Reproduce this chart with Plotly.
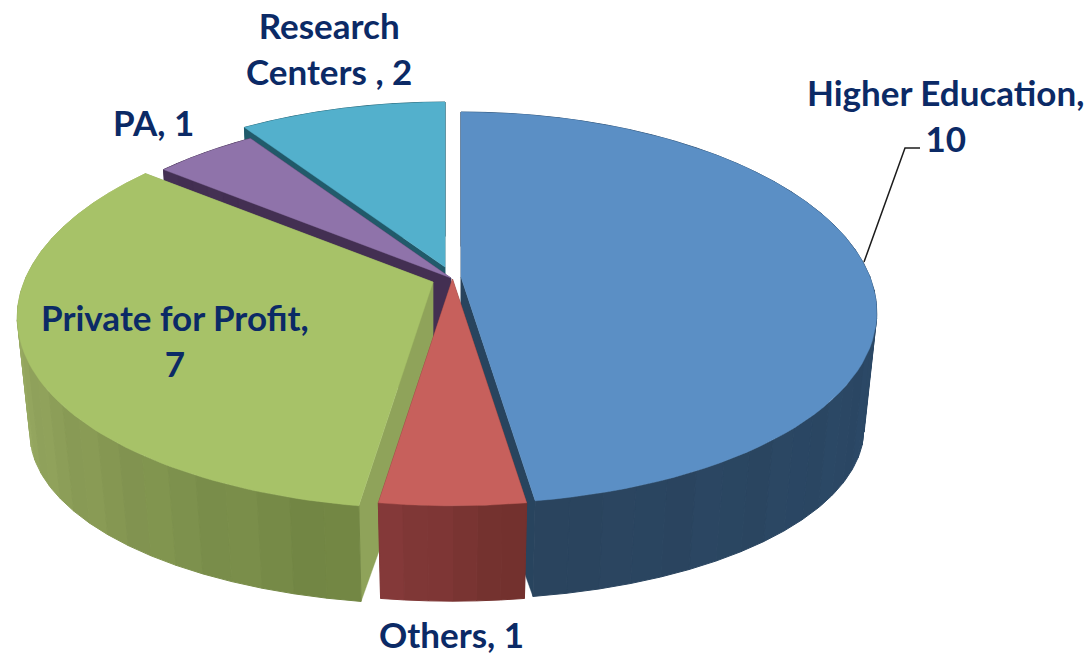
import numpy as np
import plotly.graph_objects as go

# --- data -------------------------------------------------------------
categories = ["Higher Education", "Others", "Private for Profit", "PA", "Research Centers "]
values = [10, 1, 7, 1, 2]

# --- style ------------------------------------------------------------
top_colors = ["#5b8fc5", "#c7605c", "#a7c268", "#8f73aa", "#53b0cc"]
cut_colors = ["#28445e", "#6f3331", "#8fa35a", "#432f52", "#215a6a"]
wall_ramps = [((44, 78, 114), (42, 68, 94)),      # from start angle to end angle
              ((112, 48, 44), (134, 58, 58)),
              ((112, 132, 66), (182, 198, 122)),
              ((67, 47, 82), (67, 47, 82)),
              ((33, 90, 106), (33, 90, 106))]
apex = [(461, 277), (452.5, 279), (433, 282), (451, 278), (445, 267)]
draw_order = ["Research Centers ", "PA", "Private for Profit", "Higher Education", "Others"]
R, RB, KX, KY = 409.0, 191.0, 0.18, 0.158   # projected radii and perspective
DROP, SX, SY = 118.0, 0.97, 0.90            # base disc shift and scale
TXT = "#0b2a66"

def ring(t):
    X, Y = np.sin(t), np.cos(t)
    return R * X / (1 + KX * Y), -RB * Y / (1 + KY * Y)

def hexrgb(c):
    return "rgb(%d,%d,%d)" % tuple(int(round(v)) for v in c)

def poly(fig, xs, ys, color, name, w=0.4):
    fig.add_trace(go.Scatter(x=xs, y=ys, mode="lines", fill="toself", fillcolor=color,
                             line=dict(color=color, width=w), hoverinfo="skip",
                             name=name, showlegend=False))

total = sum(values)
edges = np.concatenate([[0], np.cumsum(values)]) / total * 2 * np.pi

fig = go.Figure()
for name in draw_order:
    i = categories.index(name)
    a0, a1 = edges[i], edges[i + 1]
    ax, ay = apex[i]
    # cut faces
    for a in (a1, a0):
        u, v = ring(a)
        poly(fig, [ax, ax + u, ax + SX * u, ax, ax],
             [ay, ay + v, ay + DROP + SY * v, ay + DROP, ay], cut_colors[i], name)
    # outer wall, drawn in narrow bands, farthest bands first
    n = max(6, int(np.degrees(a1 - a0) / 4))
    bands = np.linspace(a0, a1, n + 1)
    c0, c1 = np.array(wall_ramps[i][0], float), np.array(wall_ramps[i][1], float)
    order = sorted(range(n), key=lambda j: -np.cos((bands[j] + bands[j + 1]) / 2))
    for j in order:
        tt = np.linspace(bands[j], bands[j + 1], 5)
        u, v = ring(tt)
        f = (j + 0.5) / n
        shade = 1 + (0.012 if j % 3 == 0 else (-0.012 if j % 3 == 1 else 0))
        col = np.clip((c0 + (c1 - c0) * f) * shade, 0, 255)
        xs = np.concatenate([ax + u, (ax + SX * u)[::-1], [ax + u[0]]])
        ys = np.concatenate([ay + v, (ay + DROP + SY * v)[::-1], [ay + v[0]]])
        poly(fig, xs, ys, hexrgb(col), name, w=1)
    # top face
    tt = np.linspace(a0, a1, 80)
    u, v = ring(tt)
    poly(fig, np.concatenate([[ax], ax + u, [ax]]), np.concatenate([[ay], ay + v, [ay]]),
         top_colors[i], name)

labels = [("Higher Education,<br>10", 945, 115),
          ("Others, 1", 451, 634),
          ("Private for Profit,<br>7", 175, 340),
          ("PA, 1", 153, 122),
          ("Research<br>Centers , 2", 329, 48)]
annotations = [dict(x=x, y=y, text=t, xref="x", yref="y", showarrow=False, align="center",
                    font=dict(family="Lato", size=35, color=TXT, weight="bold"))
               for t, x, y in labels]

fig.update_layout(
    width=1088, height=655, margin=dict(l=0, r=0, t=0, b=0),
    paper_bgcolor="white", plot_bgcolor="white", showlegend=False,
    xaxis=dict(range=[0, 1088], visible=False, fixedrange=True),
    yaxis=dict(range=[655, 0], visible=False, fixedrange=True),
    annotations=annotations,
    shapes=[dict(type="path", path="M 864 262 L 905 148 L 920 148", xref="x", yref="y",
                 line=dict(color="#1c1c1c", width=1.5))],
)
fig.write_html("out.html", config=dict(displayModeBar=False),
               post_script="document.body.style.margin='0';document.documentElement.style.overflow='hidden';")
